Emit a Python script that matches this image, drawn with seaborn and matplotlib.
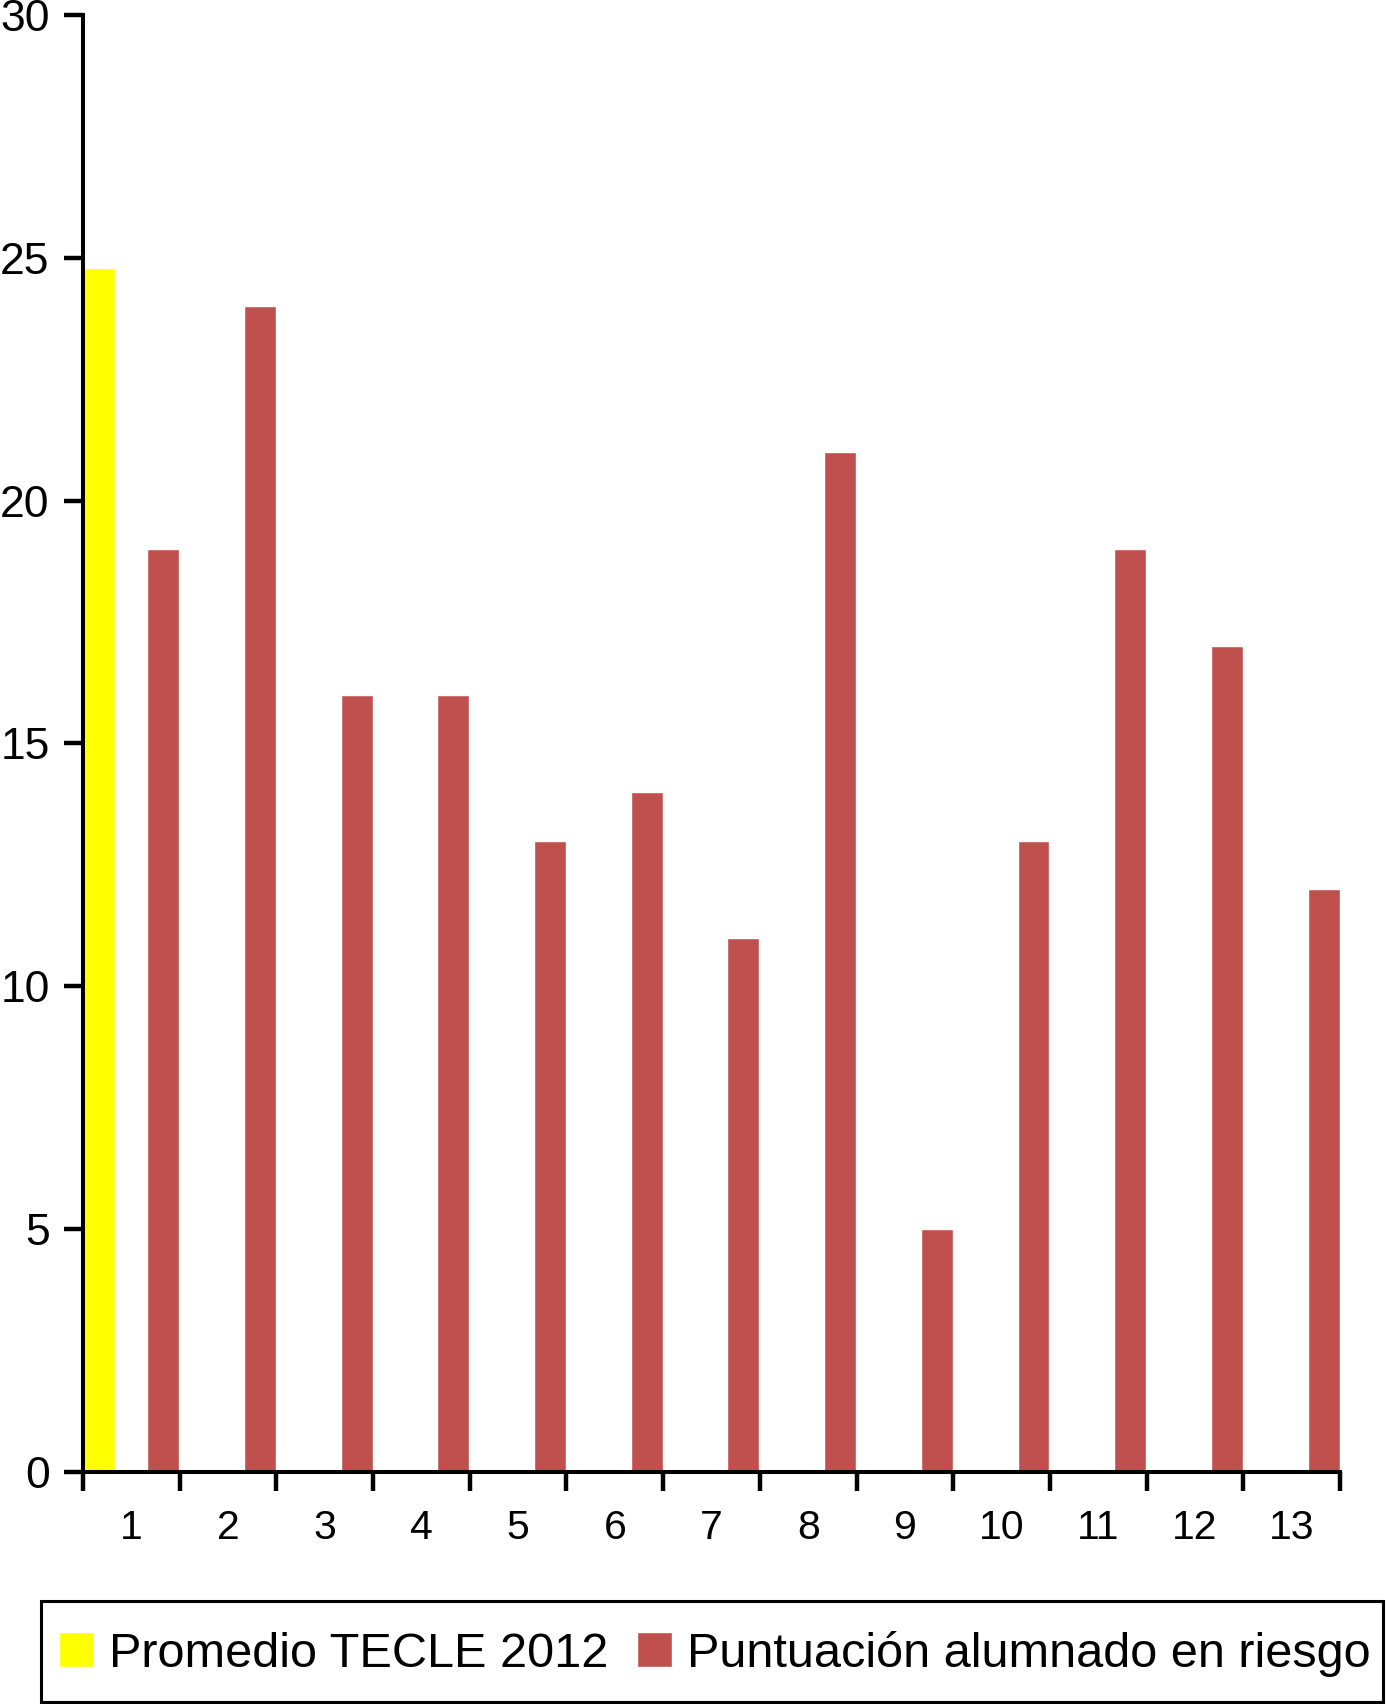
import numpy as np
import pandas as pd
import matplotlib
matplotlib.use("Agg")
import matplotlib.pyplot as plt
from matplotlib.patches import Rectangle
import seaborn as sns

categories = [str(i) for i in range(1, 14)]
promedio = [24.8]
riesgo = [19, 24, 16, 16, 13, 14, 11, 21, 5, 13, 19, 17, 12]
series_names = ["Promedio TECLE 2012", "Puntuación alumnado en riesgo"]
colors = ["#FFFF00", "#C0504D"]
y_ticks = [0, 5, 10, 15, 20, 25, 30]

df = pd.concat([
    pd.DataFrame({"cat": categories[:1], "serie": series_names[0], "valor": promedio}),
    pd.DataFrame({"cat": categories, "serie": series_names[1], "valor": riesgo}),
])

sns.set_style("white")
plt.rcParams["font.family"] = ["Liberation Sans", "DejaVu Sans"]
plt.rcParams["text.color"] = "black"

fig = plt.figure(figsize=(13.86, 17.04), dpi=100)
ax = fig.add_axes([0.0599, 0.1362, 0.9069, 0.855])

sns.barplot(
    data=df, x="cat", y="valor", hue="serie",
    order=categories, hue_order=series_names, palette=colors,
    width=1.32, gap=0.5, saturation=1, ax=ax, legend=True,
)

leg = ax.get_legend()
handles = leg.legend_handles
labels = [t.get_text() for t in leg.get_texts()]
leg.remove()

ax.set_xlim(-0.5, len(categories) - 0.5)
ax.set_ylim(0, 30)
ax.set_yticks(y_ticks)
ax.set_xticks(np.arange(-0.5, len(categories)), labels=[])
ax.set_xticks(np.arange(len(categories)), labels=categories, minor=True)
ax.set_xlabel("")
ax.set_ylabel("")

for s in ["top", "right"]:
    ax.spines[s].set_visible(False)
for s in ["left", "bottom"]:
    ax.spines[s].set_linewidth(2.9)
    ax.spines[s].set_color("black")

ax.tick_params(axis="y", which="major", direction="out", length=14, width=3.2,
               labelsize=32, pad=10, left=True, colors="black")
ax.tick_params(axis="x", which="major", direction="out", length=14, width=3.2,
               bottom=True, colors="black")
ax.tick_params(axis="x", which="minor", length=0, labelsize=29.5, pad=27,
               labelcolor="black")

# legend box
fig.patches.append(Rectangle((0.0296, 0.0012), 0.968, 0.0593, transform=fig.transFigure,
                             fill=False, edgecolor="black", linewidth=2.2))
fig.legend(
    handles, labels, loc="center left", bbox_to_anchor=(0.0426, 0.0295),
    ncol=2, fontsize=35, frameon=False, labelcolor="black",
    handlelength=0.72, handleheight=0.72,
    handletextpad=0.3, columnspacing=0.6, borderaxespad=0, borderpad=0,
)

fig.savefig("out.png", dpi=100)
